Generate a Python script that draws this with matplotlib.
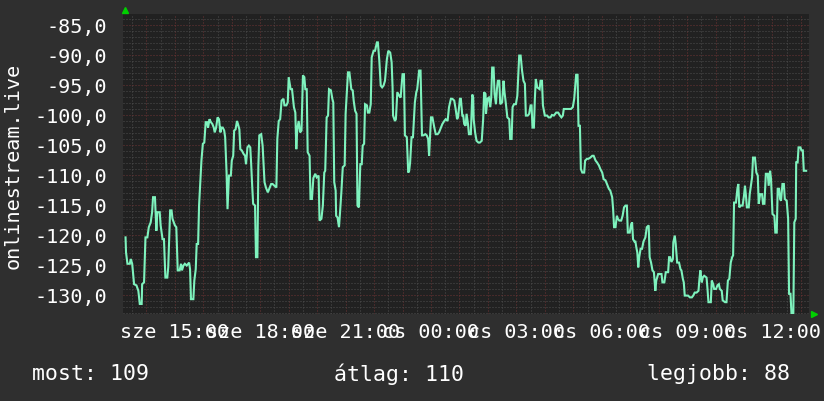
import matplotlib
matplotlib.use("Agg")
import matplotlib.pyplot as plt
from matplotlib.ticker import MultipleLocator, FixedLocator, FixedFormatter, FuncFormatter

# minutes relative to Wednesday 15:00
times = [-104,-103,-100,-95,-93,-90,-86,-81,-77,-74,-70,-69,-65,-62,-58,-55,-51,-48,-46,-42,-39,-37,-32,-30,-26,-23,-20,-16,-14,-12,-10,-7,-5,0,3,6,10,13,15,18,21,25,28,30,32,34,39,41,44,46,49,51,53,56,59,62,65,68,70,73,76,79,82,84,87,90,93,96,98,101,104,106,109,111,114,118,120,123,125,128,131,133,136,138,141,145,148,150,153,156,159,161,163,165,169,171,174,
         176,178,182,185,189,192,196,199,203,206,210,214,216,219,222,225,229,231,235,238,240,244,247,251,254,256,258,261,264,267,270,273,275,278,280,284,286,289,292,296,299,303,305,309,312,315,317,320,323,325,329,332,334,336,339,340,343,346,348,351,354,358,360,362,365,368,372,375,377,380,383,385,388,391,394,396,399,401,405,407,410,413,415,419,422,426,428,431,434,437,440,443,447,450,454,457,459,460,464,466,
         469,473,476,480,483,485,489,492,494,496,499,502,506,509,511,515,518,521,524,528,531,534,536,540,543,547,550,554,557,561,564,568,571,575,578,582,585,589,592,595,597,601,603,606,608,610,613,615,618,620,624,627,629,630,633,636,640,643,647,650,652,655,656,659,662,665,667,669,672,674,677,679,681,684,686,690,693,695,698,701,705,707,710,712,715,719,722,726,729,732,735,738,740,744,747,750,752,754,757,
         759,761,764,769,771,774,776,780,785,788,792,795,799,804,808,812,815,818,820,826,830,835,839,842,846,849,851,854,856,859,863,865,869,872,876,880,883,887,890,894,897,901,904,908,911,915,918,922,924,926,929,932,934,937,941,944,947,950,953,955,959,962,964,966,969,971,973,975,977,979,982,985,988,992,995,999,1001,1004,1007,1010,1013,1015,1019,1022,1026,1028,1032,1035,1040,1042,1044,1047,1050,
         1051,1054,1056,1059,1063,1066,1068,1071,1073,1075,1079,1082,1086,1090,1093,1096,1100,1104,1106,1108,1111,1113,1116,1121,1123,1125,1130,1132,1135,1137,1141,1144,1147,1149,1153,1155,1160,1163,1166,1169,1172,1175,1177,1179,1183,1186,1188,1190,1193,1197,1200,1202,1204,1206,1210,1212,1215,1217,1219,1223,1226,1229,1231,1234,1238,1240,1243,1246,1250,1252,1255,1257,1260,1264,1266,1269,1271,1274,1276,1278,1281,1284,1286,1290,1293,1295,1298,1300,1304,1306,1309,1310,1313,1315,1319,1321,1324,1326,1331]

values = [-120.4,-122.9,-124.8,-124.8,-124.0,-124.8,-128.2,-128.4,-129.3,-131.5,-131.5,-128.2,-127.9,-120.4,-120.4,-118.7,-117.9,-116.2,-113.7,-113.7,-119.3,-116.2,-116.2,-118.4,-120.7,-120.7,-127.1,-127.1,-125.4,-120.7,-115.9,-115.9,-117.3,-118.4,-118.7,-125.9,-125.9,-124.8,-125.9,-125.1,-124.8,-125.1,-124.8,-124.6,-125.7,-130.7,-130.7,-127.6,-125.7,-121.5,-121.5,-115.1,-112.1,-107.6,-104.8,-104.6,-101.2,-101.2,-102.1,-100.7,-101.2,-101.5,-102.1,-102.9,-102.1,-100.4,-100.7,-102.9,-102.1,-102.1,-102.6,-103.7,-109.6,-115.7,-110.1,-110.1,-107.6,-106.8,-102.6,-102.4,-101.0,-101.5,-102.4,-105.7,-105.9,-106.5,-106.8,-108.2,-105.4,-105.1,-105.4,-108.4,-111.8,-114.8,-115.1,-123.7,-123.7,
          -108.6,-103.4,-103.2,-105.1,-111.2,-112.1,-112.9,-112.3,-111.5,-111.5,-111.8,-112.1,-104.0,-101.0,-100.7,-97.6,-97.3,-98.4,-98.4,-97.9,-93.7,-95.7,-95.7,-98.7,-99.6,-105.7,-102.4,-101.0,-102.9,-102.6,-93.4,-93.7,-95.7,-95.7,-106.2,-106.8,-114.0,-114.0,-110.5,-109.8,-110.4,-110.1,-117.6,-117.3,-115.1,-109.6,-109.3,-100.4,-100.1,-95.7,-95.9,-97.3,-97.9,-111.2,-112.6,-116.8,-117.1,-118.7,-116.5,-112.9,-108.7,-108.4,-99.8,-97.1,-92.9,-92.9,-95.7,-95.9,-97.6,-99.3,-99.8,-115.1,-115.4,-108.2,-108.2,-105.1,-104.8,-98.2,-98.4,-99.6,-99.6,-98.2,-90.4,-89.3,-89.3,-87.9,-87.9,-90.9,-95.1,-95.4,-95.1,-94.3,-90.7,-89.3,-89.6,-91.2,-95.4,-100.1,-101.0,-100.7,
          -96.2,-96.8,-97.1,-93.2,-93.2,-103.4,-103.7,-109.6,-109.3,-107.9,-103.7,-103.7,-97.9,-96.2,-95.7,-92.6,-92.6,-103.4,-103.4,-103.2,-103.4,-104.0,-106.8,-100.4,-100.4,-102.1,-103.2,-103.2,-102.9,-102.1,-101.5,-101.0,-100.7,-101.0,-98.7,-97.3,-97.3,-97.6,-99.0,-100.7,-100.4,-97.3,-97.3,-100.1,-100.1,-101.5,-101.8,-99.8,-101.5,-103.2,-103.2,-96.6,-97.1,-100.7,-102.9,-104.3,-104.6,-104.6,-104.3,-100.7,-96.2,-96.5,-99.8,-97.3,-97.1,-98.7,-97.1,-92.1,-92.1,-96.5,-98.2,-95.7,-94.3,-94.3,-98.2,-97.9,-94.3,-96.2,-98.2,-100.4,-100.7,-104.0,-104.0,-98.7,-98.2,-98.2,-96.8,-90.1,-90.1,-92.6,-94.3,-94.8,-100.1,-100.1,-99.8,-98.4,-98.4,-102.1,-102.1,
          -97.3,-94.0,-95.4,-95.7,-94.3,-94.3,-98.4,-100.1,-100.1,-100.4,-100.4,-100.0,-100.1,-99.6,-99.6,-100.1,-100.4,-100.1,-99.0,-99.0,-99.0,-99.0,-98.7,-97.3,-93.3,-93.3,-101.8,-101.8,-109.0,-109.6,-109.6,-107.6,-107.3,-107.3,-107.1,-106.8,-106.8,-107.6,-107.9,-108.4,-109.0,-109.6,-110.7,-110.9,-111.5,-112.3,-112.6,-113.7,-115.7,-118.7,-118.7,-116.8,-117.3,-117.6,-117.6,-116.8,-115.4,-115.1,-115.1,-119.6,-119.6,-118.2,-117.9,-120.7,-121.1,-121.1,-122.1,-122.9,-125.4,-123.7,-122.3,-122.3,-121.1,-120.4,-118.7,-118.4,-123.7,-124.6,-125.9,-126.2,-129.3,-127.6,-126.5,-126.5,-126.5,-127.9,-127.9,-126.2,-126.2,-123.7,-123.7,-124.5,-124.0,
          -121.2,-120.1,-121.5,-124.6,-124.6,-125.7,-125.9,-127.3,-127.9,-130.1,-130.1,-130.1,-130.4,-130.4,-130.1,-129.6,-129.6,-129.3,-127.3,-125.9,-127.9,-127.1,-126.8,-127.1,-129.0,-131.2,-131.2,-127.6,-128.2,-129.0,-129.0,-128.4,-128.2,-129.0,-129.3,-130.9,-131.2,-131.2,-127.6,-127.3,-124.6,-123.7,-123.4,-114.6,-114.6,-112.3,-111.5,-115.4,-115.1,-115.1,-113.4,-111.8,-113.4,-115.4,-115.4,-113.2,-111.5,-110.4,-107.1,-107.1,-109.6,-110.1,-114.8,-113.2,-113.2,-114.8,-114.8,-109.8,-109.8,-111.8,-109.3,-110.7,-116.5,-116.8,-119.6,-119.6,-112.3,-112.3,-114.0,-114.3,-111.5,-111.5,-114.0,-114.3,-117.3,-129.8,-129.8,-133.0,-133.0,-117.9,-117.3,-107.9,-107.9,-105.4,-105.4,-105.9,-105.9,-109.3,-109.3]

tick_minutes = [0, 180, 360, 540, 720, 900, 1080, 1260]
tick_labels = ["sze 15:00", "sze 18:00", "sze 21:00", "cs 00:00",
               "cs 03:00", "cs 06:00", "cs 09:00", "cs 12:00"]
y_ticks = [-130, -125, -120, -115, -110, -105, -100, -95, -90, -85]
y_label = "onlinestream.live"
footer = ["most: 109", "átlag: 110", "legjobb: 88"]

BG = "#2f2f2f"
PLOT_BG = "#212121"
LINE = "#7ef2bd"
MINOR = "#4d4d4d"
MAJOR = "#6e3434"
FONT = "DejaVu Sans Mono"
FS = 14.5

fig = plt.figure(figsize=(8.24, 4.02), dpi=100, facecolor=BG)
ax = fig.add_axes([122.7/824, 1-315/402, (809-122.7)/824, 300/402])
ax.set_facecolor(PLOT_BG)
for s in ax.spines.values():
    s.set_visible(False)

ax.set_xlim(-110, 1337)
ax.set_ylim(-133.17, -83.17)

ax.xaxis.set_major_locator(FixedLocator(tick_minutes))
ax.xaxis.set_major_formatter(FixedFormatter(tick_labels))
ax.xaxis.set_minor_locator(MultipleLocator(30))
ax.yaxis.set_major_locator(FixedLocator(y_ticks))
ax.yaxis.set_major_formatter(FuncFormatter(lambda v, p: f"{v:.1f}".replace(".", ",")))
ax.yaxis.set_minor_locator(MultipleLocator(1))

dash = (0, (1, 2))
for m in range(-90, 1340, 30):
    c = MAJOR if m % 60 == 0 else MINOR
    ax.axvline(m, color=c, lw=0.72, ls=dash, zorder=1)
for v in range(-133, -83):
    c = MAJOR if v % 5 == 0 else MINOR
    ax.axhline(v, color=c, lw=0.72, ls=dash, zorder=1)

ax.tick_params(axis="both", which="both", length=0, colors="white")
ax.tick_params(axis="x", pad=5.8)
ax.tick_params(axis="y", pad=11)
for lab in ax.get_xticklabels() + ax.get_yticklabels():
    lab.set_fontfamily(FONT)
    lab.set_fontsize(FS)
    lab.set_color("white")

ax.plot(times, values, color=LINE, lw=1.5, zorder=3, solid_joinstyle="miter")

# axis arrows
ax.plot([0.0034], [1.013], marker="^", color="#00d000", markersize=4.5,
        transform=ax.transAxes, clip_on=False, zorder=5, lw=0)
ax.plot([1.0073], [0.0], marker=">", color="#00d000", markersize=4.5,
        transform=ax.transAxes, clip_on=False, zorder=5, lw=0)

fig.text(13/824, 1-166/402, y_label, rotation=90, ha="center", va="center",
         color="white", fontsize=FS, family=FONT)

fy = 1 - 374/402
fig.text(32/824, fy, footer[0], ha="left", va="center", color="white", fontsize=15.5, family=FONT)
fig.text(334/824, fy, footer[1], ha="left", va="center", color="white", fontsize=15.5, family=FONT)
fig.text(790/824, fy, footer[2], ha="right", va="center", color="white", fontsize=15.5, family=FONT)

fig.savefig("out.png", dpi=100, facecolor=BG)
